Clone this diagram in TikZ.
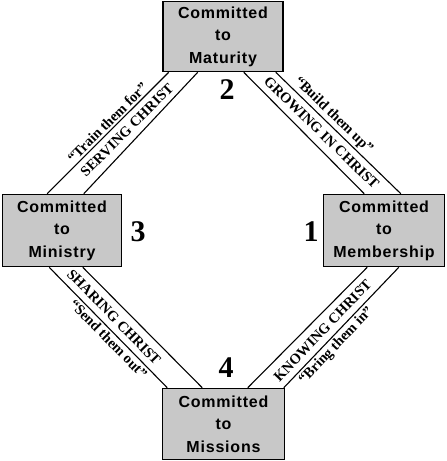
\documentclass[tikz,border=0pt]{standalone}
\usepackage{fontspec}
\setmainfont{Liberation Serif}
\newfontfamily\boxfont[LetterSpace=5]{Liberation Sans}
\definecolor{boxgray}{RGB}{200,200,200}

\begin{document}
\begin{tikzpicture}[x=1pt, y=1pt,
    stage/.style={rectangle, draw, line width=1.6pt, fill=boxgray, align=center, inner sep=0pt,
                  font=\boxfont\bfseries\fontsize{16}{22.5}\selectfont},
    band/.style={line width=1.1pt},
    motto/.style={font=\bfseries\fontsize{14.5}{14.5}\selectfont, sloped, inner sep=0pt},
    stepnum/.style={font=\bfseries\fontsize{30}{30}\selectfont, inner sep=0pt}
]
\useasboundingbox (0,0) rectangle (447,-461);

\node[stage, minimum width=120pt, minimum height=70pt] (mat) at (223,-36.5) {Committed\\to\\Maturity};
\node[stage, minimum width=119pt, minimum height=72pt] (min) at (62,-230.5) {Committed\\to\\Ministry};
\node[stage, minimum width=121pt, minimum height=72pt] (mem) at (384,-230.5) {Committed\\to\\Membership};
\node[stage, minimum width=122pt, minimum height=71pt] (mis) at (223.5,-424) {Committed\\to\\Missions};

% bands between the stages
\draw[band] ([xshift=6.5pt]mat.south west) -- ([xshift=45.5pt]min.north west)
    node[motto, pos=.46, above=2pt] (train) {“Train them for”}
    node[motto, pos=.41, below=6pt] (serve) {SERVING CHRIST};
\draw[band] ([xshift=35.5pt]mat.south west) -- ([xshift=-38.5pt]min.north east);
\draw[band] ([xshift=-40pt]mat.south east) -- ([xshift=41.5pt]mem.north west);
\draw[band] ([xshift=-8pt]mat.south east) -- ([xshift=-44.5pt]mem.north east)
    node[motto, pos=.41, above=2pt] (build) {“Build them up”}
    node[motto, pos=.43, below=6pt] (grow) {GROWING IN CHRIST};
\draw[band] ([xshift=47.5pt]min.south west) -- ([xshift=5.5pt]mis.north west)
    node[motto, pos=.55, below=2pt] (send) {“Send them out”}
    node[motto, pos=.48, above=6pt] (share) {SHARING CHRIST};
\draw[band] ([xshift=-39.5pt]min.south east) -- ([xshift=40.5pt]mis.north west);
\draw[band] ([xshift=44.5pt]mem.south west) -- ([xshift=-37.5pt]mis.north east);
\draw[band] ([xshift=-46.5pt]mem.south east) -- ([xshift=-1.5pt]mis.north east)
    node[motto, pos=.6, below=2pt] (bring) {“Bring them in”}
    node[motto, pos=.59, above=6pt] (know) {KNOWING CHRIST};

\node[stepnum] (n1) at (311,-232) {1};
\node[stepnum] (n2) at (227,-90) {2};
\node[stepnum] (n3) at (138,-232) {3};
\node[stepnum] (n4) at (226,-368) {4};
\end{tikzpicture}
\end{document}
